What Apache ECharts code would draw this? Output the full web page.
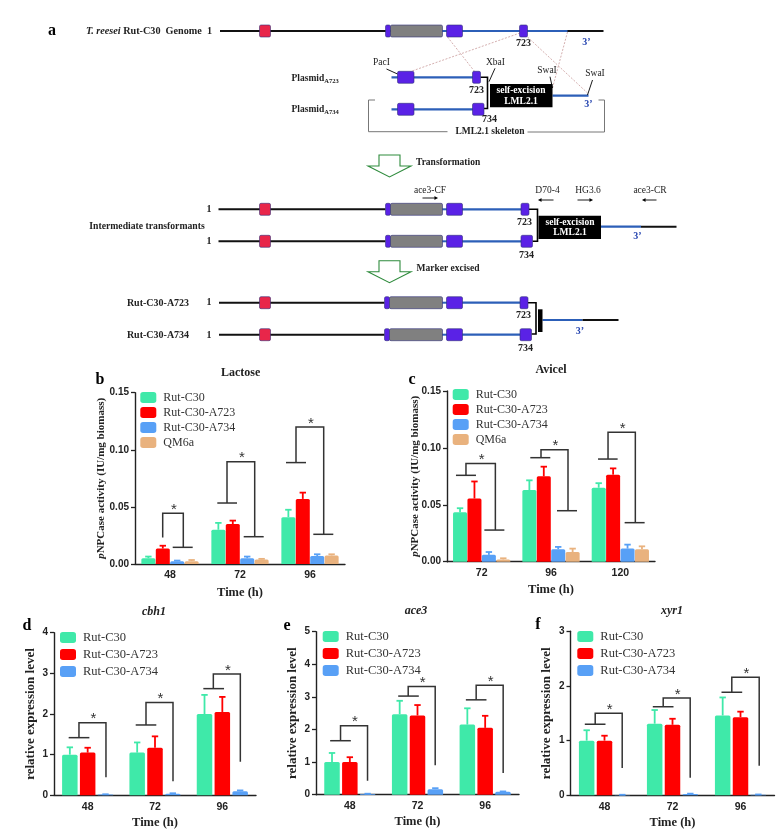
<!DOCTYPE html>
<html><head><meta charset="utf-8">
<style>html,body{margin:0;padding:0;background:#fff}#c{width:784px;height:830px}</style>
<script src="https://cdn.jsdelivr.net/npm/echarts@6/dist/echarts.min.js"></script>
</head><body><div id="c"></div>
<script>
// ---------- data ----------
const strainNames = ['Rut-C30','Rut-C30-A723','Rut-C30-A734','QM6a'];
const hoursLactose = ['48','72','96'];
const lactoseMeans = [[.005,.03,.041],[.0135,.035,.057],[.0025,.005,.007],[.0025,.004,.0075]];
const lactoseTops  = [[.0065,.036,.0475],[.016,.038,.0625],[.003,.0065,.0085],[.0035,.0045,.0085]];
const lactoseSig   = [[.0231,.0444,.0146],[.0534,.0896,.0239],[.0888,.12,.026]];
const hoursAvicel = ['72','96','120'];
const avicelMeans = [[.0435,.063,.065],[.0555,.075,.0765],[.006,.011,.0115],[.002,.0085,.011]];
const avicelTops  = [[.047,.0715,.069],[.0705,.0835,.082],[.0085,.013,.015],[.003,.0115,.0135]];
const avicelSig   = [[.0759,.0864,.0278],[.0914,.0984,.0448],[.0902,.1137,.0343]];
const hoursExpr = ['48','72','96'];
const cbh1Means = [[1,1.05,2],[1.05,1.17,2.05],[.02,.04,.1]];
const cbh1Tops  = [[1.18,1.3,2.47],[1.17,1.45,2.42],[.025,.05,.12]];
const cbh1Sig   = [[1.418,1.787,.443],[1.73,2.28,.344],[2.624,2.985,.828]];
const ace3Means = [[1,2.47,2.15],[1,2.43,2.05],[.02,.17,.09]];
const ace3Tops  = [[1.28,2.88,2.65],[1.15,2.75,2.42],[.03,.2,.1]];
const ace3Sig   = [[1.656,2.116,.429],[3.025,3.32,.9],[2.91,3.36,.664]];
const xyr1Means = [[1,1.31,1.46],[1,1.29,1.43],[.005,.025,.01]];
const xyr1Tops  = [[1.19,1.56,1.79],[1.09,1.4,1.53],[.01,.03,.015]];
const xyr1Sig   = [[1.3,1.5,.5],[1.62,1.78,.32],[1.885,2.16,.54]];

// ---------- styling and layout ----------
const COLORS = ['#3fe9a9','#ff0000','#58a0f6','#e9b27e'];
const SERIF = '"Liberation Serif","Times New Roman",serif';
const SANS = '"Liberation Sans",Arial,sans-serif';
const INK = '#222';
const PCT = {name:'{i|p}NPCase activity (IU/mg biomass)', size:11};
const REL = {name:'relative expression level', size:13};

// offsets in px from category centre: [bracket left, bracket right, left stub from, to, right stub from, to]
const panels = [
 {title:'Lactose',tx:240.7,ty:367,italic:false,left:135,top:392.7,w:210,h:171.3,max:.15,step:.05,dec:2,cats:hoursLactose,means:lactoseMeans,tops:lactoseTops,sig:lactoseSig,axisName:PCT,nameGapY:28,nameGapX:22,barW:14,gap:'3%',legX:140.3,legY:391.5,legGap:3,legFont:12,
  off:[[-7.3,13.3,null,null,2.7,22.7],[-13,14.7,-22.7,-3,3.7,23.7],[-14,13.7,-24,-4,3.3,23.3]]},
 {title:'Avicel',tx:551,ty:364,italic:false,left:447,top:391,w:208,h:170.7,max:.15,step:.05,dec:2,cats:hoursAvicel,means:avicelMeans,tops:avicelTops,sig:avicelSig,axisName:PCT,nameGapY:26,nameGapX:22,barW:14,gap:'3%',legX:452.7,legY:388.5,legGap:3,legFont:12,
  off:[[-15.7,13.7,-25.7,-5.7,2.7,22.7],[-10,17,-20.7,-.7,6,26],[-12.3,15,-22.3,-2.7,4.3,24.3]]},
 {title:'cbh1',tx:154,ty:606,italic:true,left:54,top:632.7,w:202,h:162.6,max:4,step:1,dec:0,cats:hoursExpr,means:cbh1Means,tops:cbh1Tops,sig:cbh1Sig,axisName:REL,nameGapY:17,nameGapX:21,barW:15.5,gap:'15%',legX:60,legY:631,legGap:4,legFont:12.5,
  off:[[-8.7,18.3,-19,1.7,null,null],[-9,18,-19.3,1.3,null,null],[-9,18,-19,1.7,null,null]]},
 {title:'ace3',tx:416,ty:605,italic:true,left:316,top:631.7,w:203,h:163,max:5,step:1,dec:0,cats:hoursExpr,means:ace3Means,tops:ace3Tops,sig:ace3Sig,axisName:REL,nameGapY:17,nameGapX:21,barW:15.5,gap:'15%',legX:322.7,legY:630,legGap:4,legFont:12.5,
  off:[[-9.3,17.7,-19.7,1,null,null],[-9.3,17.7,-19.3,1.3,null,null],[-9,18,-19.3,1.3,null,null]]},
 {title:'xyr1',tx:672,ty:605,italic:true,left:570.5,top:631.3,w:204,h:164,max:3,step:1,dec:0,cats:hoursExpr,means:xyr1Means,tops:xyr1Tops,sig:xyr1Sig,axisName:REL,nameGapY:17,nameGapX:21,barW:15.5,gap:'15%',legX:577.3,legY:630,legGap:4,legFont:12.5,
  off:[[-9.3,17.7,-19.7,1,null,null],[-9.3,17.7,-19.7,1,null,null],[-8.7,18.7,-19,1.7,null,null]]}
];

const grid=[],xAxis=[],yAxis=[],series=[],legend=[],title=[];
const axisBase={lineStyle:{color:INK,width:1.4}};
panels.forEach((p,pi)=>{
  grid.push({left:p.left,top:p.top,width:p.w,height:p.h,outerBoundsMode:'none'});
  xAxis.push({type:'category',gridIndex:pi,data:p.cats,axisLine:axisBase,
    axisTick:{alignWithLabel:true,length:4,lineStyle:{color:INK,width:1.3}},
    axisLabel:{color:INK,fontFamily:SANS,fontWeight:'bold',fontSize:10.5,margin:6},
    name:'Time (h)',nameLocation:'middle',nameGap:p.nameGapX,nameMoveOverlap:false,
    nameTextStyle:{fontFamily:SERIF,fontWeight:'bold',fontSize:12.5,color:INK}});
  yAxis.push({type:'value',gridIndex:pi,min:0,max:p.max,interval:p.step,splitLine:{show:false},
    axisLine:{show:true,lineStyle:{color:INK,width:1.4}},
    axisTick:{show:true,length:4,lineStyle:{color:INK,width:1.3}},
    axisLabel:{color:INK,fontFamily:SANS,fontWeight:'bold',fontSize:10,margin:6,formatter:v=>v.toFixed(p.dec)},
    name:p.axisName.name,nameLocation:'middle',nameGap:p.nameGapY,nameMoveOverlap:false,
    nameTextStyle:{fontFamily:SERIF,fontWeight:'bold',fontSize:p.axisName.size,color:INK,
      rich:{i:{fontFamily:SERIF,fontWeight:'bold',fontStyle:'italic',fontSize:p.axisName.size,color:INK}}}});
  const n=p.means.length;
  const names=strainNames.slice(0,n);
  const gapPx=p.barW*parseFloat(p.gap)/100;
  p.means.forEach((vals,si)=>{
    series.push({type:'bar',name:names[si],xAxisIndex:pi,yAxisIndex:pi,data:vals,barWidth:p.barW,barGap:p.gap,
      itemStyle:{color:COLORS[si],borderRadius:[1.5,1.5,0,0]},z:2,animation:false});
  });
  // error bars
  series.push({type:'custom',name:'error'+pi,xAxisIndex:pi,yAxisIndex:pi,z:1,animation:false,silent:true,
    data:p.tops.flatMap((tops,si)=>tops.map((t,ci)=>[ci,si,p.means[si][ci],t])),
    encode:{x:0,y:3},
    renderItem:(params,api)=>{
      const ci=api.value(0),si=api.value(1);
      const dx=(si-(n-1)/2)*(p.barW+gapPx);
      const a=api.coord([ci,api.value(2)]),b=api.coord([ci,api.value(3)]);
      const x=a[0]+dx, st={stroke:COLORS[si],lineWidth:1.8,fill:null};
      return {type:'group',children:[
        {type:'line',shape:{x1:x,y1:a[1],x2:x,y2:b[1]},style:st},
        {type:'line',shape:{x1:x-3.2,y1:b[1],x2:x+3.2,y2:b[1]},style:st}]};
    }});
  // significance brackets
  series.push({type:'custom',name:'sig'+pi,xAxisIndex:pi,yAxisIndex:pi,z:3,animation:false,silent:true,
    data:p.sig.map((s,ci)=>[ci,s[0],s[1],s[2]]),encode:{x:0,y:2},
    renderItem:(params,api)=>{
      const ci=api.value(0),o=p.off[ci];
      const yL=api.coord([ci,api.value(1)]),yT=api.coord([ci,api.value(2)]),yR=api.coord([ci,api.value(3)]);
      const c=yL[0],st={stroke:'#333',lineWidth:1.5,fill:null};
      const xl=c+o[0],xr=c+o[1];
      const kids=[{type:'polyline',shape:{points:[[xl,yL[1]],[xl,yT[1]],[xr,yT[1]],[xr,yR[1]]]},style:st}];
      if(o[2]!==null)kids.push({type:'line',shape:{x1:c+o[2],y1:yL[1],x2:c+o[3],y2:yL[1]},style:st});
      if(o[4]!==null)kids.push({type:'line',shape:{x1:c+o[4],y1:yR[1],x2:c+o[5],y2:yR[1]},style:st});
      kids.push({type:'text',x:(xl+xr)/2+1,y:yT[1]-3.5,style:{text:'*',fill:'#333',font:'15px '+SANS,textAlign:'center',textVerticalAlign:'middle'}});
      return {type:'group',children:kids};
    }});
  legend.push({left:p.legX,top:p.legY,orient:'vertical',padding:0,data:names,icon:'roundRect',itemWidth:16,itemHeight:11,itemGap:p.legGap,
    selectedMode:false,textStyle:{fontFamily:SERIF,fontSize:p.legFont,color:'#333',padding:[0,0,0,2]}});
  title.push({text:p.title,left:p.tx,top:p.ty,textAlign:'center',padding:0,
    textStyle:{fontFamily:SERIF,fontSize:12,fontWeight:'bold',fontStyle:p.italic?'italic':'normal',color:INK}});
});

// ---------- schematic (panel a) ----------
const g=[];
const PURPLE='#5a22e6',RED='#e8264a',GRAY='#808080',BLUE='#2c5fb8',BLACK='#111';
const line=(x1,y1,x2,y2,stroke=BLACK,w=2,dash)=>g.push({type:'line',shape:{x1,y1,x2,y2},style:{stroke,lineWidth:w,lineDash:dash}});
const poly=(pts,stroke=BLACK,w=1.5)=>g.push({type:'polyline',shape:{points:pts},style:{stroke,lineWidth:w,fill:null}});
const box=(x1,x2,y,h,fill)=>g.push({type:'rect',shape:{x:x1,y:y-h/2,width:x2-x1,height:h,r:1.5},style:{fill,stroke:'#30307a',lineWidth:.6},z:5});
const blk=(x1,x2,y1,y2)=>g.push({type:'rect',shape:{x:x1,y:y1,width:x2-x1,height:y2-y1},style:{fill:'#000'},z:5});
const txt=(text,x,y,o={})=>g.push({type:'text',x,y,z:6,style:Object.assign({text,fill:o.fill||INK,font:(o.w||'bold')+' '+(o.size||10)+'px '+SERIF,textAlign:o.a||'center',textVerticalAlign:'middle'},o.rich?{rich:o.rich}:{})});
const blue3=(x,y)=>txt('3\u2019',x,y,{fill:'#2645b0'});
function geneRow(y,x0,endBlue,smallW,p1=385.5){
  line(x0,y,p1,y);
  line(442,y,447,y,BLUE,2);
  line(462,y,endBlue,y,BLUE,2.2);
  box(259.5,270.5,y,12,RED);
  box(p1,p1+5,y,12,PURPLE);
  box(p1+5,442.5,y,12,GRAY);
  box(446.5,462.5,y,12,PURPLE);
  box(endBlue,endBlue+smallW,y,12,PURPLE);
}
// genome
line(220,31,603.5,31); line(462,31,567.5,31,BLUE,2.2);
box(259.5,270.5,31,12,RED); box(385.5,390.5,31,12,PURPLE); box(390.5,442.5,31,12,GRAY); box(446.5,462.5,31,12,PURPLE); box(519.5,527.5,31,12,PURPLE);
line(442,31,447,31,BLUE,2);
txt('{i|T. reesei} Rut-C30  Genome  1',212,31,{a:'right',size:10.2,rich:{i:{fontStyle:'italic',fontWeight:'bold',fontFamily:SERIF,fontSize:10.2,fill:INK}}});
txt('723',523.5,43); blue3(586.5,42);
// homology lines
[[447.5,37,475,72],[520,33,412,71],[527.5,37,587.5,93],[567.5,32,552.5,88]].forEach(l=>line(l[0],l[1],l[2],l[3],'#c99a9a',.8,[2,1.5]));
// plasmids
line(391.5,77.3,473,77.3,BLUE,2.2); box(397.5,414,77.3,12,PURPLE); box(472.5,480.5,77.3,12,PURPLE);
line(391.5,109.3,473,109.3,BLUE,2.2); box(397.5,414,109.3,12,PURPLE); box(472.5,484,109.3,12,PURPLE);
poly([[480.5,77.3],[487.5,77.3],[487.5,108.5],[484,108.5]],'#000',1.6);
blk(490,552.5,84,107.3);
txt('self-excision',521,91,{fill:'#fff',size:9.5}); txt('LML2.1',521,102,{fill:'#fff',size:9.5});
line(552.5,95.7,588.5,95.7,BLUE,2.2);
const subRich={s:{fontFamily:SERIF,fontWeight:'bold',fontSize:6.5,fill:INK,verticalAlign:'bottom',padding:[4,0,0,0]}};
txt('Plasmid{s|A723}',291.5,79,{a:'left',size:9.5,rich:subRich});
txt('Plasmid{s|A734}',291.5,110,{a:'left',size:9.5,rich:subRich});
txt('PacI',381.5,62,{w:'normal',size:9.5}); line(386.5,69,397.5,74,'#000',.9);
txt('XbaI',495.5,62,{w:'normal',size:9.5}); line(495,68.3,489,81.7,'#000',.9);
txt('SwaI',547,70.7,{w:'normal',size:9.5}); line(550,76.7,552.5,88,'#000',.9);
txt('SwaI',595,73.3,{w:'normal',size:9.5}); line(592.5,80,587.5,95,'#000',.9);
txt('723',476.5,90); blue3(588.5,104.3); txt('734',489.5,119);
poly([[375,100],[368.5,100],[368.5,131.7],[447.5,131.7]],'#777',1);
poly([[598.5,100],[604.5,100],[604.5,132],[527.5,132]],'#777',1);
txt('LML2.1 skeleton',490,131.7,{size:9.5});
// process arrows
const downArrow=y=>g.push({type:'polygon',shape:{points:[[379,y],[400,y],[400,y+11],[411,y+11],[389.5,y+22],[368,y+11],[379,y+11]]},style:{fill:'#fff',stroke:'#2e8b3c',lineWidth:1.1}});
downArrow(155); txt('Transformation',416,163,{a:'left',size:9.5});
downArrow(260.7); txt('Marker excised',416.5,269,{a:'left',size:9.5});
// intermediates
geneRow(209.3,218.5,521,8); geneRow(241.3,218.5,521,11.5);
txt('1',209,209.3); txt('1',209,241.3);
poly([[529,209.3],[537.5,209.3],[537.5,241.3],[532.5,241.3]],'#000',1.6);
blk(538.5,601,215.7,239);
txt('self-excision',570,222.5,{fill:'#fff',size:9.5}); txt('LML2.1',570,233,{fill:'#fff',size:9.5});
line(601,226.7,641,226.7,BLUE,2.2); line(641,226.7,676.5,226.7);
txt('723',524.5,222.3); txt('734',526.5,255); blue3(637.5,236);
txt('Intermediate transformants',147,226.7,{size:9.7});
const pr=(label,x,ax1,ax2,ay,right)=>{txt(label,x,190,{w:'normal',size:9.5});
  line(ax1,ay,ax2,ay,'#000',.9);
  const tip=right?ax2:ax1,d=right?-3:3;
  g.push({type:'polygon',shape:{points:[[tip,ay],[tip+d,ay-2],[tip+d,ay+2]]},style:{fill:'#000'}});};
pr('ace3-CF',430,422.5,437.5,198,true); pr('D70-4',547.5,538.5,553.5,200,false);
pr('HG3.6',588,577.5,592.5,200,true); pr('ace3-CR',650,642.5,656.5,200,false);
// final strains
geneRow(302.7,219,520,8,384.5); geneRow(334.7,219,520,11.5,384.5);
txt('1',209,302.7); txt('1',209,335);
txt('Rut-C30-A723',158,303); txt('Rut-C30-A734',158,335);
poly([[528,302.7],[536,302.7],[536,334],[531.5,334]],'#000',1.6);
blk(538,542.5,309.3,332);
line(542.5,320,582.5,320,BLUE,2.2); line(582.5,320,618.5,320);
txt('723',523.5,315.7); txt('734',525.5,348.3); blue3(580,331);
// panel letters
[['a',52,31],['b',100,380],['c',412,380],['d',27,626],['e',287,626],['f',538,625]].forEach(l=>txt(l[0],l[1],l[2],{size:16,fill:'#000'}));

const chart=echarts.init(document.getElementById('c'),null,{width:784,height:830});
chart.setOption({backgroundColor:'#fff',animation:false,grid,xAxis,yAxis,series,legend,title,
  graphic:{elements:g}});
</script></body></html>
